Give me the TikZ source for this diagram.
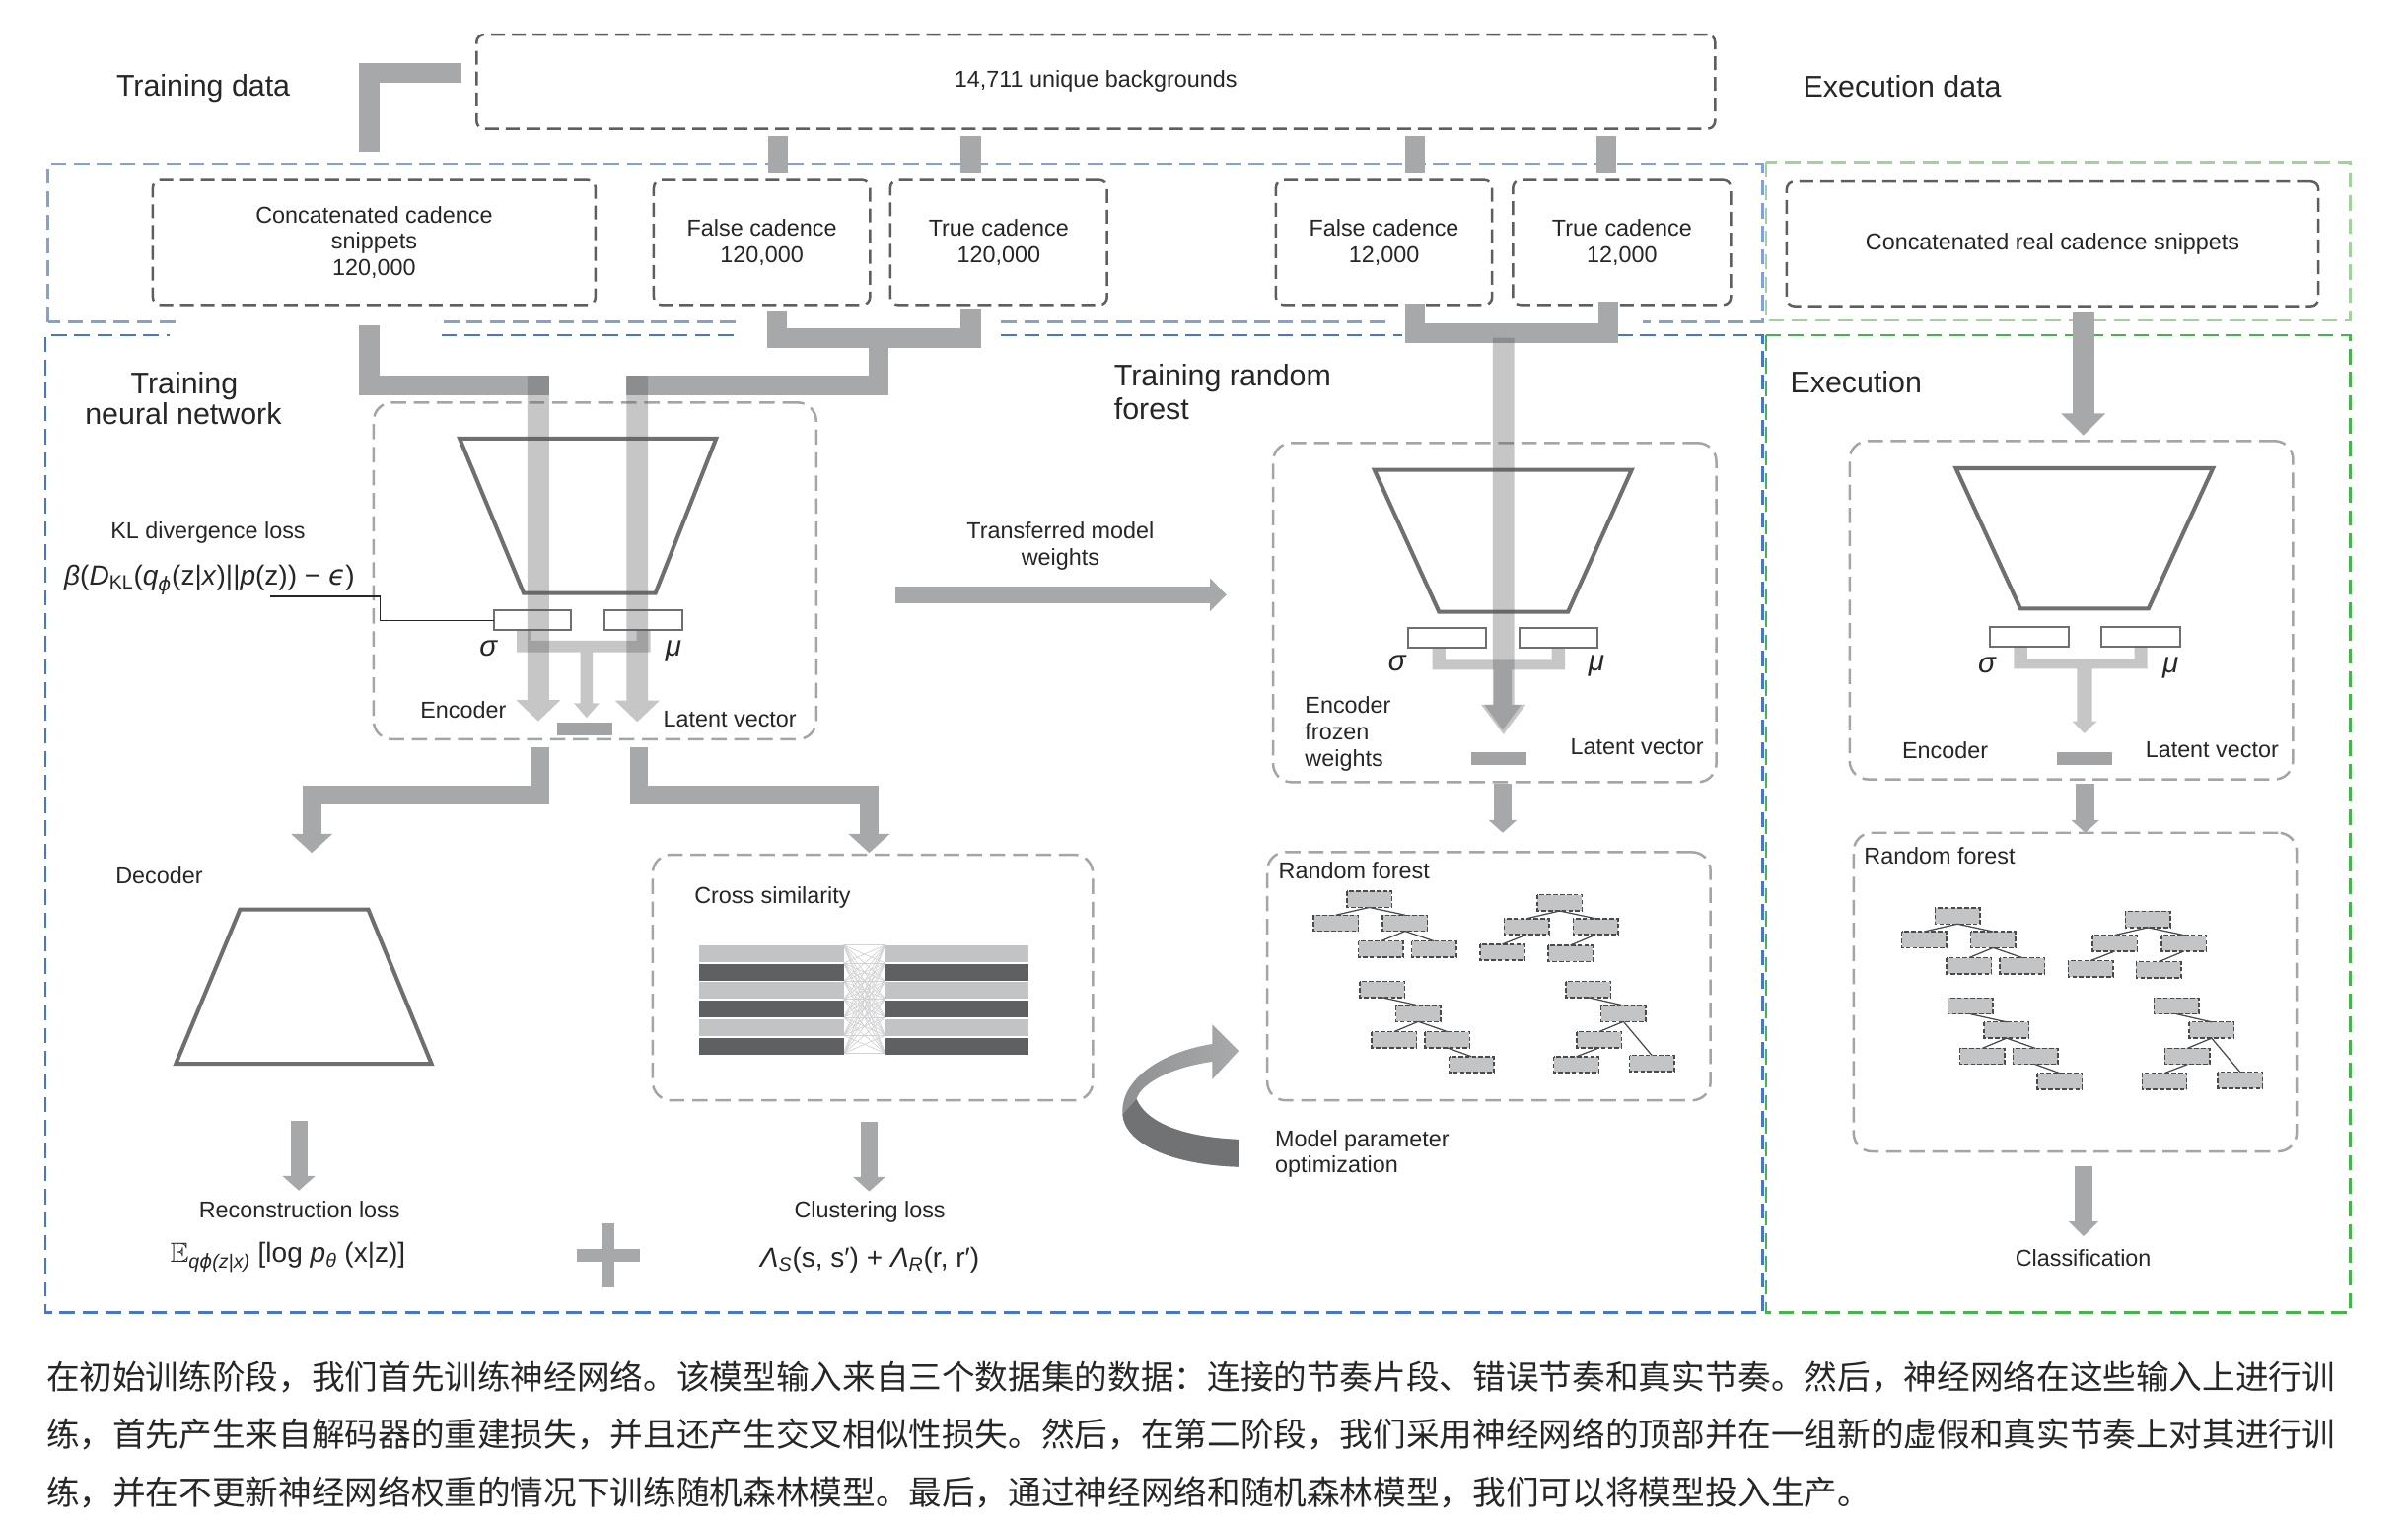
\documentclass[tikz,border=0pt]{standalone}
\usepackage{fontspec}
\usepackage{amssymb}
\setmainfont{Liberation Sans}
\newfontfamily\cjk{Noto Sans CJK SC}
\newfontfamily\djv{DejaVu Sans}
\definecolor{txt}{HTML}{262626}
\definecolor{connc}{HTML}{A7A8AA}
\definecolor{lbar}{HTML}{595A5C}
\definecolor{dboxc}{HTML}{5E5E5E}
\definecolor{lboxc}{HTML}{A5A5A5}
\definecolor{blueA}{HTML}{82A3D2}
\definecolor{blueB}{HTML}{4A78BE}
\definecolor{greenA}{HTML}{A3D19E}
\definecolor{greenB}{HTML}{48B24F}
\definecolor{trapc}{HTML}{6E6F71}
\definecolor{latentc}{HTML}{A2A3A5}
\definecolor{stripL}{HTML}{C2C3C5}
\definecolor{stripD}{HTML}{5F6062}
\definecolor{treef}{HTML}{C3C4C6}
\definecolor{treed}{HTML}{4A4A4A}
\definecolor{meshc}{HTML}{D2D2D4}
\definecolor{curvA}{HTML}{8E8F91}
\definecolor{curvB}{HTML}{A9AAAC}
\definecolor{curvD}{HTML}{717274}
\newcommand\dhead[4]{\fill[connc] ({#1-#4},#2) -- (#1,#3) -- ({#1+#4},#2) -- cycle;}
\newcommand\rhead[4]{\fill[connc] (#1,{#2-#4}) -- (#3,#2) -- (#1,{#2+#4}) -- cycle;}
\newcommand\flowarrow[6]{\fill[flow] ({#1-#5},#2) -- ({#1-#5},#3) -- ({#1-#6},#3) -- (#1,#4) -- ({#1+#6},#3) -- ({#1+#5},#3) -- ({#1+#5},#2) -- cycle;}
\newcommand\tb[2]{\draw[treebox] (#1,#2) rectangle ++(29.2,10.5);}
\newcommand\te[4]{\draw[treeedge] ({#1+14.6},{#2+10.5}) -- ({#3+14.6},#4);}
\newcommand\forestdraw{%
  % tree 1
  \tb{877}{580.5}\tb{855.3}{596}\tb{900.3}{596}\tb{884.6}{613}\tb{919.2}{613}
  \te{877}{580.5}{855.3}{596}\te{877}{580.5}{900.3}{596}
  \te{900.3}{596}{884.6}{613}\te{900.3}{596}{919.2}{613}
  % tree 2
  \tb{1001}{582.8}\tb{979.4}{598.3}\tb{1024.4}{598.3}\tb{963.7}{615}\tb{1008}{615.7}
  \te{1001}{582.8}{979.4}{598.3}\te{1001}{582.8}{1024.4}{598.3}
  \te{979.4}{598.3}{963.7}{615}\te{1024.4}{598.3}{1008}{615.7}
  % tree 3
  \tb{885.4}{639.2}\tb{908.9}{654.9}\tb{893.2}{672}\tb{927.8}{672}\tb{943.6}{688.2}
  \te{885.4}{639.2}{908.9}{654.9}\te{908.9}{654.9}{893.2}{672}
  \te{908.9}{654.9}{927.8}{672}\te{927.8}{672}{943.6}{688.2}
  % tree 4
  \tb{1019.6}{639.2}\tb{1042.5}{654.9}\tb{1026.7}{672}\tb{1061.1}{687.5}\tb{1011.8}{688.2}
  \te{1019.6}{639.2}{1042.5}{654.9}\te{1042.5}{654.9}{1026.7}{672}
  \te{1042.5}{654.9}{1061.1}{687.5}\te{1026.7}{672}{1011.8}{688.2}
}
\begin{document}
\begin{tikzpicture}[x=1pt,y=-1pt,
  connl/.style={draw=connc, line width=13pt, line join=miter, line cap=butt},
  flow/.style={fill=lbar, fill opacity=0.34},
  databox/.style={draw=dboxc, line width=1.6pt, dash pattern=on 9pt off 4.5pt, rounded corners=5pt, inner sep=0pt, align=center, text=txt, font=\fontsize{15}{17.2}\selectfont},
  encbox/.style={draw=lboxc, line width=1.6pt, dash pattern=on 10pt off 5pt, rounded corners=12pt, inner sep=0pt},
  bluea/.style={draw=blueA, line width=1.8pt, dash pattern=on 10pt off 5pt},
  blueb/.style={draw=blueB, line width=1.8pt, dash pattern=on 10pt off 5pt},
  greena/.style={draw=greenA, line width=1.8pt, dash pattern=on 10pt off 5pt},
  greenb/.style={draw=greenB, line width=1.8pt, dash pattern=on 10pt off 5pt},
  trapz/.style={draw=trapc, line width=2.6pt, line join=miter},
  smrect/.style={draw=trapc, line width=1.3pt},
  treebox/.style={fill=treef, draw=treed, line width=0.9pt, dash pattern=on 3pt off 1.4pt},
  treeedge/.style={draw=treed, line width=0.8pt},
  hdg/.style={text=txt, inner sep=0pt, font=\fontsize{19.5}{21}\selectfont},
  lab/.style={text=txt, inner sep=0pt, font=\fontsize{15}{17.2}\selectfont},
  fml/.style={text=txt, inner sep=0pt, font=\fontsize{18}{20}\selectfont},
  grk/.style={text=txt, inner sep=0pt, font=\fontsize{19}{20}\selectfont\itshape},
  cjkline/.style={text=txt, inner sep=0pt, anchor=base west, font=\cjk\fontsize{21.6}{21.6}\selectfont}
]
\useasboundingbox (0,0) rectangle (1568,993.3);
\fill[white] (0,0) rectangle (1568,993.3);

% ---------- frames ----------
\draw[bluea] (31.3,209.7) -- (31.3,106.6) -- (1147.5,106.6) -- (1147.5,209.7) -- (1070,209.7);
\draw[bluea] (902,209.7) -- (652,209.7);
\draw[bluea] (479,209.7) -- (284,209.7);
\draw[bluea] (114,209.7) -- (31.3,209.7);
\draw[blueb] (1053,218.3) -- (1147.5,218.3) -- (1147.5,855.1) -- (29.5,855.1) -- (29.5,218.3) -- (110.6,218.3);
\draw[blueb] (287.5,218.3) -- (481,218.3);
\draw[blueb] (652,218.3) -- (913.3,218.3);
\draw[greena] (1150,105.5) rectangle (1530.4,208.7);
\draw[greenb] (1150,218.3) rectangle (1530.4,855.1);

% ---------- data boxes ----------
\node[databox, minimum width=806.5pt, minimum height=61.4pt] (bg) at (713.55,53.2) {14,711 unique backgrounds};
\node[databox, minimum width=288.3pt, minimum height=81.3pt] (cc) at (243.65,157.95) {Concatenated cadence\\snippets\\120,000};
\node[databox, minimum width=140.8pt, minimum height=81.3pt] (fa) at (496.1,157.95) {False cadence\\120,000};
\node[databox, minimum width=141.2pt, minimum height=81.3pt] (ta) at (650.3,157.95) {True cadence\\120,000};
\node[databox, minimum width=140.8pt, minimum height=81.3pt] (fb) at (901.2,157.95) {False cadence\\12,000};
\node[databox, minimum width=141.9pt, minimum height=81.3pt] (tb) at (1056.15,157.95) {True cadence\\12,000};
\node[databox, minimum width=346.3pt, minimum height=81.1pt] (cr) at (1336.55,158.85) {Concatenated real cadence snippets};

% ---------- thick connectors ----------
\draw[connl] (240.5,98.9) -- (240.5,47.3) -- (300.4,47.3);
\foreach \x in {506.5,632.2,921.5,1046.2}{\draw[connl] (\x,88.8) -- (\x,112.4);}
\draw[connl] (240.5,211.9) -- (240.5,251.2) -- (357.5,251.2);
\draw[connl] (506,202) -- (506,220.4) -- (632.2,220.4) -- (632.2,200.7);
\draw[connl] (572.3,220.4) -- (572.3,251.2) -- (408,251.2);
\draw[connl] (921.5,198) -- (921.5,216.8) -- (1047.2,216.8) -- (1047.2,196.5);
\draw[connl, line width=14pt] (1356.6,203.3) -- (1356.6,269.6); \dhead{1356.6}{269.3}{283.6}{14.4}

% ---------- encoder boxes ----------
\node[encbox, minimum width=288.2pt, minimum height=219.3pt] (enc1) at (387.4,371.85) {};
\node[encbox, minimum width=288.6pt, minimum height=220.9pt] (enc2) at (973.3,398.95) {};
\node[encbox, minimum width=288.7pt, minimum height=220.4pt] (enc3) at (1348.75,397.4) {};
\node[encbox, minimum width=286.6pt, minimum height=160pt] (cross) at (568.3,636.7) {};
\node[encbox, minimum width=288.6pt, minimum height=161.7pt] (rf2) at (969.5,635.85) {};
\node[encbox, minimum width=288.5pt, minimum height=207.6pt] (rf3) at (1351.25,646.2) {};

% trapezoids
\draw[trapz] (299.3,285.7) -- (466.3,285.7) -- (426.8,386.3) -- (341,386.3) -- cycle;
\draw[trapz] (894.9,306) -- (1062.5,306) -- (1021,398.5) -- (937,398.5) -- cycle;
\draw[trapz] (1273.6,305) -- (1441,305) -- (1399,396.4) -- (1315.6,396.4) -- cycle;
\draw[trapz] (156.3,592.4) -- (239.8,592.4) -- (281,692.9) -- (114.5,692.9) -- cycle;

% sigma / mu rectangles
\draw[smrect] (321.4,397.4) rectangle (371.6,410.5);
\draw[smrect] (393.7,397.4) rectangle (444.2,410.5);
\draw[smrect] (917,409.2) rectangle (967.7,422.1);
\draw[smrect] (989.5,409.2) rectangle (1040.2,422.1);
\draw[smrect] (1295.7,408.4) rectangle (1347,421.2);
\draw[smrect] (1368.2,408.4) rectangle (1419.5,421.2);

% KL leader line
\draw[draw=txt, line width=0.9pt] (176.2,388.5) -- (247.7,388.5) -- (247.7,404.1) -- (321.4,404.1);

% light flows
\flowarrow{350.5}{244.7}{455.9}{469.8}{7}{14.5}
\flowarrow{415}{244.7}{456.3}{470.2}{7}{14.5}
\flowarrow{979}{220}{459}{478.3}{7}{14.5}
% brackets
\fill[flow] (336.5,410.5) -- (336.5,424.8) -- (378,424.8) -- (378,458) -- (373.7,458) -- (382,467.6) -- (390.3,458) -- (386,458) -- (386,424.8) -- (423.5,424.8) -- (423.5,410.5) -- (414.5,410.5) -- (414.5,417.3) -- (345.5,417.3) -- (345.5,410.5) -- cycle;
\fill[flow] (932.7,422.1) -- (932.7,436.2) -- (972.75,436.2) -- (972.75,459) -- (966.5,459) -- (978.5,475.5) -- (990.5,459) -- (984.25,459) -- (984.25,436.2) -- (1019,436.2) -- (1019,422.1) -- (1010.4,422.1) -- (1010.4,429.8) -- (941.3,429.8) -- (941.3,422.1) -- cycle;
\fill[flow] (1311.4,421.2) -- (1311.4,435.5) -- (1352.5,435.5) -- (1352.5,469.8) -- (1349.4,469.8) -- (1357.35,477.7) -- (1365.3,469.8) -- (1362.2,469.8) -- (1362.2,435.5) -- (1398.2,435.5) -- (1398.2,421.2) -- (1389.8,421.2) -- (1389.8,429.1) -- (1320.1,429.1) -- (1320.1,421.2) -- cycle;

% latent vectors
\fill[latentc] (363,470.4) rectangle (398.8,478.8);
\fill[latentc] (958,490) rectangle (993.8,498.2);
\fill[latentc] (1339.3,489.7) rectangle (1375.3,498.2);

% connectors below encoders
\draw[connl, line width=12pt] (351.5,486.9) -- (351.5,518) -- (203,518) -- (203,543.5); \dhead{203}{543.1}{555.5}{13.5}
\draw[connl, line width=12pt] (416,486.9) -- (416,518) -- (566,518) -- (566,543.5); \dhead{566}{543.1}{555.5}{13.5}
\draw[connl, line width=12pt] (978.5,510.3) -- (978.5,534.4); \dhead{978.5}{534.1}{542.4}{9.2}
\draw[connl, line width=12pt] (1357.8,510.4) -- (1357.8,534.4); \dhead{1357.8}{534.1}{542.4}{9.2}
\draw[connl, line width=12pt] (1356.7,759.5) -- (1356.7,796); \dhead{1356.7}{795.7}{805.2}{9.6}
\draw[connl, line width=11pt] (194.6,730.3) -- (194.6,766.3); \dhead{194.6}{766}{775.5}{10.6}
\draw[connl, line width=11pt] (566,731) -- (566,766.8); \dhead{566}{766.5}{776}{10.6}
\draw[connl, line width=10.7pt] (583,387.4) -- (788.3,387.4); \rhead{788}{387.4}{798.6}{10.7}

% plus sign
\fill[connc] (375.5,813.7) rectangle (416.5,821.7);
\fill[connc] (392,797) rectangle (400,838.5);

% cross similarity
\foreach \a in {0,...,6}{\foreach \b in {0,...,6}{\draw[draw=meshc, line width=0.45pt] (549.4,{615.6+\a*11.75}) -- (576.4,{615.6+\b*11.75});}}
\foreach \y/\c in {615.6/stripL,627.7/stripD,639.8/stripL,651.9/stripD,664/stripL,676.1/stripD}{\fill[\c] (455.5,\y) rectangle (549.4,{\y+10.9}); \fill[\c] (576.4,\y) rectangle (669.8,{\y+10.9});}

% random forests
\forestdraw
\begin{scope}[shift={(383,10.8)}]\forestdraw\end{scope}

% curved arrow
\shade[left color=curvA, right color=curvB] (806.6,760) .. controls (768,759) and (733,747) .. (731,726) .. controls (729,703) and (757,685) .. (789.4,680) -- (789.4,667.3) -- (806.6,684.5) -- (789.4,703) -- (789.4,691.5) .. controls (764,695) and (743,705) .. (740,716) .. controls (748,734) and (777,741) .. (806.6,742.2) -- cycle;
\fill[curvD] (740,716) .. controls (748,734) and (777,741) .. (806.6,742.2) -- (806.6,760) .. controls (768,759) and (733,747) .. (731,726) -- cycle;

% ---------- texts ----------
\node[hdg, anchor=base west] (tdata) at (75.6,62.5) {Training data};
\node[hdg, anchor=base west] (edata) at (1174,63.1) {Execution data};
\node[hdg, anchor=base] (tnn1) at (120,256.8) {Training};
\node[hdg, anchor=base] (tnn2) at (119.4,276.1) {neural network};
\node[hdg, anchor=base west] (trf1) at (725.3,251.5) {Training random};
\node[hdg, anchor=base west] (trf2) at (725.3,272.9) {forest};
\node[hdg, anchor=base west] (exe) at (1165.6,255.7) {Execution};

\node[lab, anchor=base] (kl) at (135.5,351) {KL divergence loss};
\node[fml, anchor=base] (klf) at (136.4,381) {\textit{β}(\textit{D}\textsubscript{KL}(\textit{q}\textsubscript{\djv\itshape ϕ}(z|\textit{x})||\textit{p}(z)) − {\djv\itshape ϵ})};
\node[lab, anchor=base] (enc1l) at (301.7,467.6) {Encoder};
\node[lab, anchor=base] (lat1l) at (475.3,473.4) {Latent vector};
\node[grk, anchor=base] (sig1) at (318,427) {σ};
\node[grk, anchor=base] (mu1) at (438.5,427.4) {μ};

\node[lab, anchor=base] (tmw1) at (690.5,351) {Transferred model};
\node[lab, anchor=base] (tmw2) at (690.5,368.1) {weights};

\node[lab, anchor=base west] (efw1) at (849.6,464.8) {Encoder};
\node[lab, anchor=base west] (efw2) at (849.6,482) {frozen};
\node[lab, anchor=base west] (efw3) at (849.6,499.1) {weights};
\node[lab, anchor=base] (lat2l) at (1066,491.8) {Latent vector};
\node[grk, anchor=base] (sig2) at (909.7,437) {σ};
\node[grk, anchor=base] (mu2) at (1039.5,437) {μ};

\node[lab, anchor=base] (enc3l) at (1266.6,494) {Encoder};
\node[lab, anchor=base] (lat3l) at (1440.4,493.3) {Latent vector};
\node[grk, anchor=base] (sig3) at (1293.8,438.3) {σ};
\node[grk, anchor=base] (mu3) at (1413.4,438.3) {μ};

\node[lab, anchor=base] (dec) at (103.7,575.7) {Decoder};
\node[lab, anchor=base west] (crossl) at (452,588.3) {Cross similarity};
\node[lab, anchor=base] (recl) at (195,793.3) {Reconstruction loss};
\node[fml, anchor=base] (recf) at (187.5,822.3) {$\mathbb{E}$\textsubscript{\itshape q{\djv ϕ}(z|x)} [log \textit{p}\textsubscript{\itshape θ} (x|z)]};
\node[lab, anchor=base] (clul) at (566.4,793.3) {Clustering loss};
\node[fml, anchor=base] (cluf) at (566.4,825.4) {\textit{Λ}\textsubscript{\itshape S}(s, s′) + \textit{Λ}\textsubscript{\itshape R}(r, r′)};

\node[lab, anchor=base west] (rf2l) at (832.4,572.6) {Random forest};
\node[lab, anchor=base west] (rf3l) at (1213.6,563.1) {Random forest};
\node[lab, anchor=base west] (mpo1) at (830.1,747) {Model parameter};
\node[lab, anchor=base west] (mpo2) at (830.1,763.6) {optimization};
\node[lab, anchor=base] (cls) at (1356.5,824.7) {Classification};

\node[cjkline] (cap1) at (30,905) {在初始训练阶段，我们首先训练神经网络。该模型输入来自三个数据集的数据：连接的节奏片段、错误节奏和真实节奏。然后，神经网络在这些输入上进行训};
\node[cjkline] (cap2) at (30,942.5) {练，首先产生来自解码器的重建损失，并且还产生交叉相似性损失。然后，在第二阶段，我们采用神经网络的顶部并在一组新的虚假和真实节奏上对其进行训};
\node[cjkline] (cap3) at (30,980) {练，并在不更新神经网络权重的情况下训练随机森林模型。最后，通过神经网络和随机森林模型，我们可以将模型投入生产。};
\end{tikzpicture}
\end{document}
